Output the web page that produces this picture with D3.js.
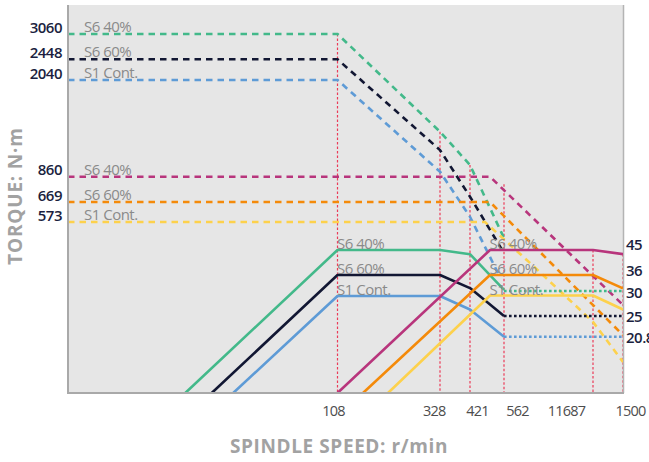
<!DOCTYPE html>
<html><head><meta charset="utf-8">
<script src="https://cdn.jsdelivr.net/npm/d3@7"></script>
<style>
html,body{margin:0;padding:0;background:#fff;}
svg{display:block;}
</style></head><body>
<svg id="chart" width="649" height="462"></svg>
<script>
// ---------------- data ----------------
const speedTicks = [108, 328, 421, 562, 1168.7, 1500];
const speedTickLabels = ["108", "328", "421", "562", "11687", "1500"];
const torqueTicks = [3060, 2448, 2040, 860, 669, 573];
const powerTicks = [45, 36, 30, 25, 20.8];
const seriesNames = ["S6 40%", "S6 60%", "S1 Cont."];

// Spindle A torque curves  [speed r/min, torque N·m]
const torqueA_S640 = [[0,3060],[108,3060],[328,1409],[421,1003],[562,519]];
const torqueA_S660 = [[0,2448],[108,2448],[328,1186],[421,709],[562,469]];
const torqueA_S1   = [[0,2040],[108,2040],[328,921],[421,598],[545,389]];
// Spindle B torque curves
const torqueB_S640 = [[0,860],[504,860],[1500,295]];
const torqueB_S660 = [[0,669],[504,669],[1500,194]];
const torqueB_S1   = [[0,573],[483,573],[739,436],[1168.7,238],[1500,104]];
// Spindle A power curves [speed r/min, kW]
const powerA_S640 = [[47,0],[108,45],[328,45],[421,43.5],[562,30.4]];
const powerA_S660 = [[57.6,0],[108,36],[328,36],[421,31.1],[562,25]];
const powerA_S1   = [[66.2,0],[108,29],[328,29],[421,26.3],[562,20.8]];
const powerA_S640_ext = [[562,30],[1500,30]];
const powerA_S660_ext = [[562,25],[1500,25]];
const powerA_S1_ext   = [[562,20.8],[1500,20.8]];
// Spindle B power curves
const powerB_S640 = [[108,0],[504,45],[1168.7,45],[1500,43.5]];
const powerB_S660 = [[162.7,0],[504,36],[1168.7,36],[1500,31]];
const powerB_S1   = [[216.4,0],[504,29.1],[1168.7,29.1],[1500,26.3]];

// ---------------- layout ----------------
const L = 68, R = 623, T = 5, B = 393;
const colA = ["#43b98a", "#121733", "#5e9bd6"];
const colB = ["#b8357c", "#f48a0a", "#fdd14c"];
const FONT = "'Open Sans', 'Noto Sans', sans-serif";

const svg = d3.select("#chart");

// schematic (piecewise) scales
const x = d3.scaleLinear()
  .domain([0].concat(speedTicks))
  .range([L, 337.5, 440, 470, 504, 593, R]);
const yT = d3.scaleLinear()
  .domain([0].concat(torqueTicks.slice().sort((a,b)=>a-b)))
  .range([B, 222, 202, 176.7, 80, 59.3, 34]);
const yP = d3.scaleLinear()
  .domain([0].concat(powerTicks.slice().sort((a,b)=>a-b)))
  .range([B, 336.7, 316, 291, 275, 250]);

// background
svg.append("rect").attr("x", L).attr("y", T).attr("width", R - L).attr("height", B - T)
  .attr("fill", "#e6e6e6");

svg.append("defs").append("clipPath").attr("id", "clip")
  .append("rect").attr("x", L).attr("y", T).attr("width", R - L).attr("height", B - T);

const torqueCurves = [
  {pts: torqueA_S640, c: colA[0]}, {pts: torqueA_S660, c: colA[1]}, {pts: torqueA_S1, c: colA[2]},
  {pts: torqueB_S640, c: colB[0]}, {pts: torqueB_S660, c: colB[1]}, {pts: torqueB_S1, c: colB[2]}
];
const powerCurves = [
  {pts: powerA_S640, c: colA[0]}, {pts: powerA_S660, c: colA[1]}, {pts: powerA_S1, c: colA[2]},
  {pts: powerB_S640, c: colB[0]}, {pts: powerB_S660, c: colB[1]}, {pts: powerB_S1, c: colB[2]}
];
const powerExt = [
  {pts: powerA_S640_ext, c: colA[0]}, {pts: powerA_S660_ext, c: colA[1]}, {pts: powerA_S1_ext, c: colA[2]}
];

// top of each guide line = highest curve at that speed
function yAt(pts, ys, s) {
  if (s < pts[0][0] || s > pts[pts.length - 1][0]) return null;
  const f = d3.scaleLinear().domain(pts.map(p => p[0])).range(pts.map(p => ys(p[1])));
  return f(s);
}
const guideTop = s => {
  const vals = [];
  torqueCurves.forEach(c => { const v = yAt(c.pts, yT, s); if (v !== null) vals.push(v); });
  powerCurves.forEach(c => { const v = yAt(c.pts, yP, s); if (v !== null) vals.push(v); });
  return d3.min(vals);
};

// guides
svg.append("g").attr("class", "guides").selectAll("path").data(speedTicks).join("path")
  .attr("d", d => `M${x(d)},${guideTop(d)}V${B}`)
  .attr("fill", "none")
  .attr("stroke", "#ec3b58").attr("stroke-width", 1.2).attr("stroke-dasharray", "2.5,2");

// axis frame
svg.append("line").attr("x1", R + 0.5).attr("x2", R + 0.5).attr("y1", T).attr("y2", B)
  .attr("stroke", "#b4b4b4").attr("stroke-width", 1.5);

const g = svg.append("g").attr("clip-path", "url(#clip)");
const lineT = d3.line().x(d => x(d[0])).y(d => yT(d[1]));
const lineP = d3.line().x(d => x(d[0])).y(d => yP(d[1]));

g.selectAll("path.t").data(torqueCurves).join("path").attr("class", "t")
  .attr("d", d => lineT(d.pts)).attr("fill", "none").attr("stroke", d => d.c)
  .attr("stroke-width", 2.6).attr("stroke-dasharray", "6.5,5");
g.selectAll("path.pe").data(powerExt).join("path").attr("class", "pe")
  .attr("d", d => lineP(d.pts)).attr("fill", "none").attr("stroke", d => d.c)
  .attr("stroke-width", 2.6).attr("stroke-dasharray", "2.6,2.4");
g.selectAll("path.p").data(powerCurves).join("path").attr("class", "p")
  .attr("d", d => lineP(d.pts)).attr("fill", "none").attr("stroke", d => d.c)
  .attr("stroke-width", 2.6).attr("stroke-linejoin", "round");

svg.append("line").attr("x1", L).attr("x2", L).attr("y1", T).attr("y2", B + 1)
  .attr("stroke", "#a9a9a9").attr("stroke-width", 2);
svg.append("line").attr("x1", L - 1).attr("x2", R + 1).attr("y1", B).attr("y2", B)
  .attr("stroke", "#a9a9a9").attr("stroke-width", 2);

// series labels
const lab = svg.append("g").attr("font-family", FONT).attr("font-size", 15)
  .attr("fill", "#8a8a8a").attr("letter-spacing", -0.5);
torqueTicks.forEach((t, i) => {
  lab.append("text").attr("x", L + 16).attr("y", yT(t) - 2).text(seriesNames[i % 3]);
});
[45, 36, 29].forEach((p, i) => {
  lab.append("text").attr("x", x(108) - 0.5).attr("y", yP(p) - 1.5).text(seriesNames[i]);
});
[45, 36, 29.1].forEach((p, i) => {
  lab.append("text").attr("x", x(504) - 0.5).attr("y", yP(p) - 1).text(seriesNames[i]);
});

// left axis (torque)
const ax = svg.append("g").attr("transform", `translate(${L - 6},0)`)
  .call(d3.axisLeft(yT).tickValues(torqueTicks).tickSize(0).tickPadding(0).tickFormat(d => String(d)));
ax.select(".domain").remove();
ax.selectAll("text").attr("dy", null).attr("y", -2)
  .attr("font-family", FONT).attr("font-size", 15).attr("font-weight", 600)
  .attr("fill", "#1b1f40").attr("letter-spacing", -0.5);

// right axis (power)
const rightDy = [-5, -4, 2, 1, 0.5];
const ar = svg.append("g").attr("transform", `translate(${R + 3},0)`)
  .call(d3.axisRight(yP).tickValues(powerTicks).tickSize(0).tickPadding(0).tickFormat(d => String(d)));
ar.select(".domain").remove();
ar.selectAll("text").attr("y", (d, i) => rightDy[i])
  .attr("font-family", FONT).attr("font-size", 15).attr("font-weight", 600)
  .attr("fill", "#1b1f40").attr("letter-spacing", -0.5);

// bottom axis (speed)
const labelShift = [-4.5, -6.3, 7, 13, -27, 7];
const ab = svg.append("g").attr("transform", `translate(0,${B})`)
  .call(d3.axisBottom(x).tickValues(speedTicks).tickSize(0).tickPadding(0)
    .tickFormat((d, i) => speedTickLabels[i]));
ab.select(".domain").remove();
ab.selectAll("text").attr("dy", null).attr("y", 22.5)
  .attr("x", (d, i) => labelShift[i])
  .attr("font-family", FONT).attr("font-size", 14.5)
  .attr("fill", "#4d4d4d").attr("letter-spacing", -0.8);

// axis titles
svg.append("text").attr("x", 339).attr("y", 453).attr("text-anchor", "middle")
  .attr("font-family", FONT).attr("font-size", 19).attr("font-weight", 700)
  .attr("fill", "#a2a2a2").attr("letter-spacing", 0.6).text("SPINDLE SPEED: r/min");
svg.append("text").attr("transform", "translate(22,196) rotate(-90)").attr("text-anchor", "middle")
  .attr("font-family", FONT).attr("font-size", 19).attr("font-weight", 700)
  .attr("fill", "#a2a2a2").attr("letter-spacing", 0.8).text("TORQUE: N·m");
</script>
</body></html>
